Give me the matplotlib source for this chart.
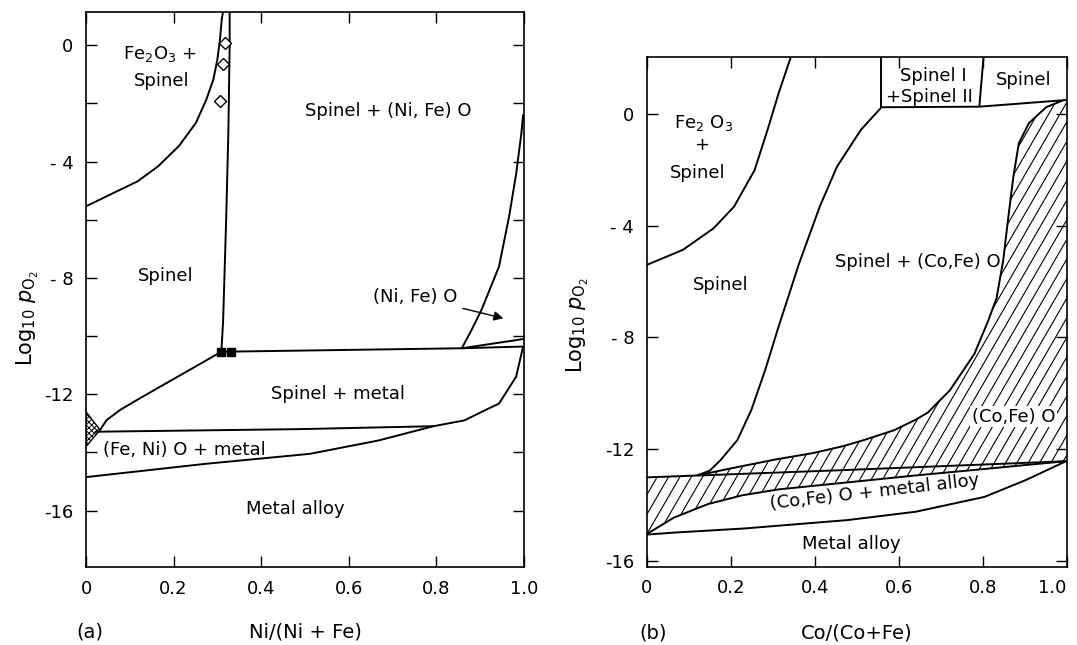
"""
Phase diagrams of log10 pO2 against cation fraction:
(a) Ni-Fe-O and (b) Co-Fe-O, redrawn from a scanned figure.
"""
import numpy as np
import matplotlib
matplotlib.use("Agg")
import matplotlib.pyplot as plt
from matplotlib.patches import Polygon

plt.rcParams['font.family'] = ['DejaVu Sans']
plt.rcParams['hatch.linewidth'] = 0.7

# ---------------- (a) Ni / (Ni + Fe) ----------------
a_fe2o3_x = [0, 0.063, 0.118, 0.165, 0.212, 0.251, 0.275, 0.291, 0.300, 0.306, 0.310, 0.313]
a_fe2o3_y = [-5.54, -5.08, -4.68, -4.16, -3.47, -2.67, -1.86, -1.17, -0.48, 0.21, 0.90, 1.15]

a_spinel_x = [0.328, 0.328, 0.325, 0.320, 0.316, 0.313, 0.309]
a_spinel_y = [1.15, 0.0, -3.0, -6.0, -8.0, -9.5, -10.54]

a_diamond_x = [0.317, 0.313, 0.305]
a_diamond_y = [0.06, -0.66, -1.92]

a_square_x = [0.309, 0.331]
a_square_y = [-10.54, -10.55]

a_tie_x = [0.309, 0.858, 1.0]
a_tie_y = [-10.54, -10.42, -10.36]

a_upper_x = [0.858, 1.0]
a_upper_y = [-10.42, -10.10]

a_nio_x = [0.858, 0.880, 0.903, 0.943, 0.966, 0.982, 0.994, 0.998]
a_nio_y = [-10.42, -9.80, -9.10, -7.61, -5.89, -4.43, -3.03, -2.38]

a_spm_x = [0.309, 0.116, 0.078, 0.047, 0.032]
a_spm_y = [-10.54, -12.20, -12.54, -12.89, -13.23]

a_wus_x = [0.02, 0.489, 0.793]
a_wus_y = [-13.29, -13.20, -13.10]

a_alloy_x = [0, 0.275, 0.511, 0.668, 0.793, 0.864, 0.903, 0.943, 0.982, 0.998]
a_alloy_y = [-14.85, -14.39, -14.05, -13.59, -13.10, -12.90, -12.61, -12.32, -11.40, -10.36]

a_small_x = [0, 0.032, 0]
a_small_y = [-12.6, -13.23, -13.8]

# ---------------- (b) Co / (Co + Fe) ----------------
b_fe2o3_x = [0, 0.086, 0.159, 0.208, 0.257, 0.290, 0.314, 0.343]
b_fe2o3_y = [-5.41, -4.87, -4.10, -3.32, -2.01, -0.46, 0.74, 2.03]

b_spinel_x = [0.12, 0.15, 0.176, 0.216, 0.249, 0.282, 0.314, 0.363, 0.412, 0.453, 0.510, 0.559]
b_spinel_y = [-12.95, -12.78, -12.40, -11.68, -10.61, -9.18, -7.62, -5.35, -3.32, -1.89, -0.57, 0.24]

b_top_x = [0.559, 0.792, 1.0]
b_top_y = [0.24, 0.26, 0.50]

b_wall1_x = [0.559, 0.559]
b_wall1_y = [0.24, 2.04]
b_wall2_x = [0.792, 0.802]
b_wall2_y = [0.26, 2.04]

b_cofeo_x = [0.12, 0.20, 0.306, 0.396, 0.468, 0.518, 0.589, 0.641, 0.669, 0.722,
             0.780, 0.812, 0.833, 0.849, 0.861, 0.873, 0.886, 0.910, 0.951, 0.99]
b_cofeo_y = [-12.95, -12.70, -12.38, -12.15, -11.90, -11.68, -11.33, -10.95, -10.70, -9.90,
             -8.60, -7.45, -6.60, -5.23, -3.70, -2.25, -1.05, -0.33, 0.24, 0.48]

b_l1_x = [0, 0.468, 1.0]
b_l1_y = [-13.02, -12.76, -12.44]

b_l2_x = [0, 0.065, 0.145, 0.228, 0.314, 0.478, 0.641, 0.804, 0.9, 1.0]
b_l2_y = [-15.05, -14.46, -13.98, -13.66, -13.45, -13.20, -12.95, -12.72, -12.58, -12.44]

b_alloy_x = [0, 0.063, 0.233, 0.478, 0.641, 0.804, 0.902, 1.0]
b_alloy_y = [-15.07, -15.0, -14.85, -14.55, -14.25, -13.72, -13.12, -12.43]

xticks = [0, 0.2, 0.4, 0.6, 0.8, 1.0]
xtick_labels = ['0', '0.2', '0.4', '0.6', '0.8', '1.0']
ytick_labels = {0: '0', -4: '- 4', -8: '- 8', -12: '-12', -16: '-16'}

LW = 1.4
FS = 13


def style_axes(ax, yt):
    ax.set_xlim(0, 1)
    ax.set_xticks(xticks)
    ax.set_xticklabels(xtick_labels)
    ax.set_yticks(yt)
    ax.set_yticklabels([ytick_labels.get(v, '') for v in yt])
    ax.tick_params(direction='in', top=True, right=True, length=8, width=1,
                   pad=9, labelsize=FS)
    for s in ax.spines.values():
        s.set_linewidth(1.2)


def hatch(ax, xs, ys, spacing=0.027, slope=26.0):
    poly = Polygon(np.column_stack([xs, ys]), closed=True, fc='none', ec='none')
    ax.add_patch(poly)
    y0, y1 = -20, 3
    for x0 in np.arange(-1.0, 1.2, spacing):
        ln, = ax.plot([x0, x0 + (y1 - y0) / slope], [y0, y1], color='k', lw=0.8)
        ln.set_clip_path(poly)


fig = plt.figure(figsize=(10.77, 6.45), dpi=100)

# ---- panel (a)
ax = fig.add_axes([86 / 1077, 1 - 567 / 645, 438 / 1077, 555.3 / 645])
ax.set_ylim(-17.94, 1.15)
style_axes(ax, list(range(0, -18, -2)))

for xs, ys in [(a_fe2o3_x, a_fe2o3_y), (a_spinel_x, a_spinel_y), (a_tie_x, a_tie_y),
               (a_upper_x, a_upper_y), (a_nio_x, a_nio_y), (a_spm_x, a_spm_y),
               (a_wus_x, a_wus_y), (a_alloy_x, a_alloy_y)]:
    ax.plot(xs, ys, color='k', lw=LW, solid_capstyle='butt')

ax.add_patch(Polygon(np.column_stack([a_small_x, a_small_y]), closed=True,
                     fc='white', ec='k', lw=1.0, hatch='xxxxxx'))
ax.plot(a_diamond_x, a_diamond_y, 'D', ms=6, mfc='white', mec='k', mew=1.0)
ax.plot(a_square_x, a_square_y, 's', ms=6, color='k')

ax.text(0.169, -0.31, r'Fe$_2$O$_3$ +', ha='center', va='center', fontsize=FS)
ax.text(0.173, -1.23, 'Spinel', ha='center', va='center', fontsize=FS)
ax.text(0.691, -2.26, 'Spinel + (Ni, Fe) O', ha='center', va='center', fontsize=FS)
ax.text(0.181, -7.95, 'Spinel', ha='center', va='center', fontsize=FS)
ax.text(0.575, -12.0, 'Spinel + metal', ha='center', va='center', fontsize=FS)
ax.text(0.225, -13.93, '(Fe, Ni) O + metal', ha='center', va='center', fontsize=FS)
ax.text(0.479, -15.94, 'Metal alloy', ha='center', va='center', fontsize=FS)
ax.annotate('(Ni, Fe) O', xy=(0.953, -9.39), xytext=(0.848, -8.65),
            ha='right', va='center', fontsize=FS,
            arrowprops=dict(arrowstyle='-|>', color='k', lw=1.0,
                            mutation_scale=14, shrinkA=2, shrinkB=0))

fig.text(90 / 1077, 1 - 632 / 645, '(a)', ha='center', va='center', fontsize=14)
fig.text(305 / 1077, 1 - 632 / 645, 'Ni/(Ni + Fe)', ha='center', va='center', fontsize=14)
fig.text(28 / 1077, 1 - 318 / 645, r'Log$_{10}$ $p_{\mathrm{O}_2}$', rotation=90,
         ha='center', va='center', fontsize=15)

# ---- panel (b)
bx = fig.add_axes([646.7 / 1077, 1 - 566.7 / 645, 420 / 1077, 509.7 / 645])
bx.set_ylim(-16.22, 2.04)
style_axes(bx, [0, -4, -8, -12, -16])
# last x label sits at the figure edge, keep it inside
bx.get_xticklabels()[-1].set_horizontalalignment('right')

# hatched (Co,Fe)O single-phase field
hx = list(b_l2_x) + [1.0] + b_cofeo_x[::-1] + b_l1_x[:1]
hy = list(b_l2_y) + [0.5] + b_cofeo_y[::-1] + b_l1_y[:1]
hatch(bx, hx, hy)

for xs, ys in [(b_fe2o3_x, b_fe2o3_y), (b_spinel_x, b_spinel_y), (b_top_x, b_top_y),
               (b_wall1_x, b_wall1_y), (b_wall2_x, b_wall2_y), (b_cofeo_x, b_cofeo_y),
               (b_l1_x, b_l1_y), (b_l2_x, b_l2_y), (b_alloy_x, b_alloy_y)]:
    bx.plot(xs, ys, color='k', lw=LW, solid_capstyle='butt')

bx.text(0.135, -0.33, r'Fe$_2$ O$_3$', ha='center', va='center', fontsize=FS)
bx.text(0.131, -1.11, '+', ha='center', va='center', fontsize=FS)
bx.text(0.122, -2.13, 'Spinel', ha='center', va='center', fontsize=FS)
bx.text(0.176, -6.13, 'Spinel', ha='center', va='center', fontsize=FS)
bx.text(0.645, -5.29, 'Spinel + (Co,Fe) O', ha='center', va='center', fontsize=FS)
bx.text(0.682, 1.36, 'Spinel I', ha='center', va='center', fontsize=FS)
bx.text(0.673, 0.60, '+Spinel II', ha='center', va='center', fontsize=FS)
bx.text(0.898, 1.22, 'Spinel', ha='center', va='center', fontsize=FS)
bx.text(0.873, -10.85, '(Co,Fe) O', ha='center', va='center', fontsize=FS,
        bbox=dict(fc='white', ec='none', pad=1))
bx.text(0.543, -13.54, '(Co,Fe) O + metal alloy', ha='center', va='center',
        fontsize=FS, rotation=6.5)
bx.text(0.486, -15.39, 'Metal alloy', ha='center', va='center', fontsize=FS)

fig.text(653 / 1077, 1 - 633 / 645, '(b)', ha='center', va='center', fontsize=14)
fig.text(857 / 1077, 1 - 633 / 645, 'Co/(Co+Fe)', ha='center', va='center', fontsize=14)
fig.text(578 / 1077, 1 - 325 / 645, r'Log$_{10}$ $p_{\mathrm{O}_2}$', rotation=90,
         ha='center', va='center', fontsize=15)

fig.savefig('out.png', dpi=100)
